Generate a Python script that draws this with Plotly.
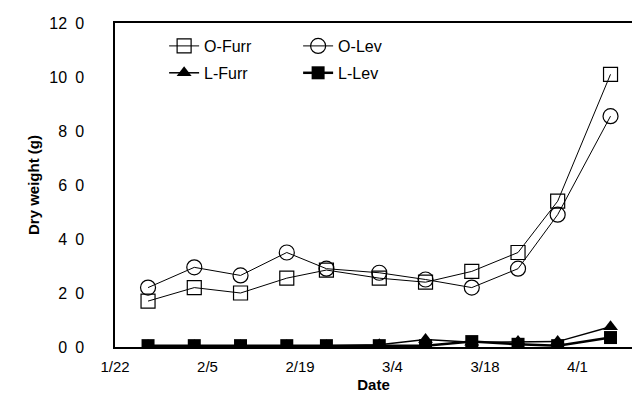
import plotly.graph_objects as go

dates = ["2000-01-27", "2000-02-03", "2000-02-10", "2000-02-17", "2000-02-23",
         "2000-03-02", "2000-03-09", "2000-03-16", "2000-03-23", "2000-03-29", "2000-04-06"]
o_furr = [1.7, 2.2, 2.0, 2.55, 2.85, 2.55, 2.4, 2.8, 3.5, 5.4, 10.1]
o_lev = [2.2, 2.95, 2.65, 3.5, 2.9, 2.75, 2.5, 2.2, 2.9, 4.9, 8.55]
l_furr = [0.05, 0.05, 0.05, 0.05, 0.05, 0.08, 0.28, 0.18, 0.2, 0.2, 0.75]
l_lev = [0.05, 0.05, 0.05, 0.05, 0.05, 0.05, 0.05, 0.2, 0.1, 0.05, 0.35]

y_ticks = [0, 2, 4, 6, 8, 10, 12]
y_labels = ["0\u20020", "2\u20020", "4\u20020", "6\u20020", "8\u20020", "10\u20020", "12\u20020"]
x_ticks = ["2000-01-22", "2000-02-05", "2000-02-19", "2000-03-04", "2000-03-18", "2000-04-01"]
x_labels = ["1/22", "2/5", "2/19", "3/4", "3/18", "4/1"]

FONT = "Liberation Sans, Arial, sans-serif"

fig = go.Figure()
fig.add_trace(go.Scatter(x=dates, y=o_furr, name="O-Furr", mode="lines+markers",
                         line=dict(color="black", width=1),
                         marker=dict(symbol="square-open", size=14, color="black", line=dict(width=1.2)),
                         legend="legend"))
fig.add_trace(go.Scatter(x=dates, y=o_lev, name="O-Lev", mode="lines+markers",
                         line=dict(color="black", width=1),
                         marker=dict(symbol="circle-open", size=15, color="black", line=dict(width=1.2)),
                         legend="legend"))
fig.add_trace(go.Scatter(x=dates, y=l_furr, name="L-Furr", mode="lines+markers",
                         line=dict(color="black", width=1.5),
                         marker=dict(symbol="triangle-up", size=13, color="black"),
                         legend="legend2"))
fig.add_trace(go.Scatter(x=dates, y=l_lev, name="L-Lev", mode="lines+markers",
                         line=dict(color="black", width=2.5),
                         marker=dict(symbol="square", size=13, color="black"),
                         legend="legend2"))

legend_common = dict(orientation="h", xanchor="left", yanchor="middle",
                     font=dict(family=FONT, size=16, color="black"),
                     bgcolor="rgba(0,0,0,0)", entrywidth=89, entrywidthmode="pixels",
                     itemwidth=30)

fig.update_layout(
    width=632, height=405,
    margin=dict(l=115, r=0, t=23, b=58),
    plot_bgcolor="white", paper_bgcolor="white",
    font=dict(family=FONT, color="black"),
    showlegend=True,
    legend=dict(x=0.095, y=0.929, **legend_common),
    legend2=dict(x=0.095, y=0.846, **legend_common),
    xaxis=dict(type="date", range=["2000-01-22", "2000-04-09 06:00"],
               tickvals=x_ticks, ticktext=x_labels,
               showgrid=False, zeroline=False,
               showline=True, linecolor="black", linewidth=1.5, mirror=True,
               ticks="", tickfont=dict(size=15), ticklabelstandoff=5,
               title=dict(text="<b>Date</b>", font=dict(size=15), standoff=6)),
    yaxis=dict(range=[0, 12], tickvals=y_ticks, ticktext=y_labels,
               showgrid=False, zeroline=False,
               showline=True, linecolor="black", linewidth=1.5,
               ticks="", tickfont=dict(size=16), ticklabelstandoff=26,
               title=dict(text="<b>Dry weight (g)</b>", font=dict(size=15), standoff=6)),
)

fig.write_html("out.html")
